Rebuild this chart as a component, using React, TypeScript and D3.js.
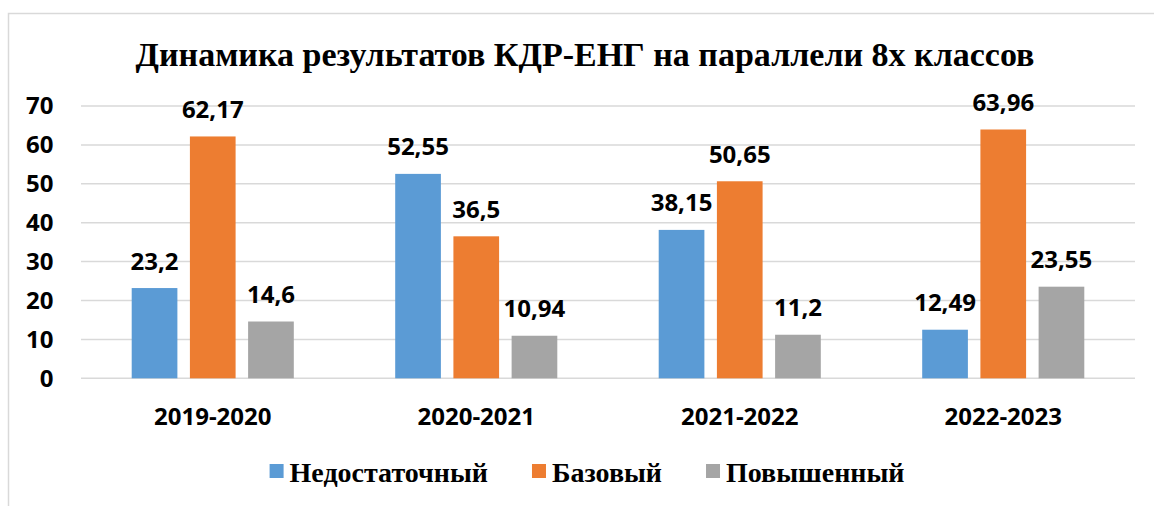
import React, { useEffect, useRef } from "react";
import * as d3 from "d3";

const categories = ["2019-2020", "2020-2021", "2021-2022", "2022-2023"];
const seriesNames = ["Недостаточный", "Базовый", "Повышенный"];
const nedostatochny = [23.2, 52.55, 38.15, 12.49];
const bazovy = [62.17, 36.5, 50.65, 63.96];
const povyshenny = [14.6, 10.94, 11.2, 23.55];
const yTicks = [0, 10, 20, 30, 40, 50, 60, 70];
const title = "Динамика результатов КДР-ЕНГ на параллели 8х классов";
const colors = ["#5B9BD5", "#ED7D31", "#A5A5A5"];

const W = 1154;
const H = 506;

export default function App() {
  const ref = useRef<SVGSVGElement | null>(null);

  useEffect(() => {
    const svg = d3.select(ref.current);
    svg.selectAll("*").remove();

    const values = [nedostatochny, bazovy, povyshenny];
    const left = 81, right = 1135, top = 106, bottom = 378.3;

    // chart frame
    svg.append("rect")
      .attr("x", 8.5).attr("y", 13.5)
      .attr("width", 1160).attr("height", 510)
      .attr("fill", "#fff").attr("stroke", "#d9d9d9").attr("stroke-width", 1.5);

    const y = d3.scaleLinear().domain([0, 70]).range([bottom, top]);
    const x0 = d3.scaleBand<string>().domain(categories).range([left, right]).padding(0);
    const groupW = 162.1;
    const x1 = d3.scaleBand<string>().domain(seriesNames).range([0, groupW]).paddingInner(0.215).paddingOuter(0);

    const labelFont = "'Open Sans', sans-serif";
    const serif = "'Liberation Serif', 'Times New Roman', serif";

    // gridlines
    svg.append("g").selectAll("line").data(yTicks).join("line")
      .attr("x1", left).attr("x2", right)
      .attr("y1", d => y(d)).attr("y2", d => y(d))
      .attr("stroke", "#d9d9d9").attr("stroke-width", 1.5);

    // y tick labels
    svg.append("g").selectAll("text").data(yTicks).join("text")
      .attr("x", 53.5).attr("y", d => y(d))
      .attr("dy", "0.35em")
      .attr("text-anchor", "end")
      .attr("font-family", labelFont).attr("font-weight", 700).attr("font-size", 24)
      .attr("fill", "#000")
      .text(d => String(d));

    // bars
    const rows: { cat: string; s: string; v: number; i: number }[] = [];
    categories.forEach((c, ci) => {
      seriesNames.forEach((s, si) => rows.push({ cat: c, s, v: values[si][ci], i: si }));
    });
    const barX = (r: { cat: string; s: string }) =>
      (x0(r.cat) as number) + x0.bandwidth() / 2 - groupW / 2 + (x1(r.s) as number);

    svg.append("g").selectAll("rect").data(rows).join("rect")
      .attr("x", r => barX(r))
      .attr("y", r => y(r.v))
      .attr("width", x1.bandwidth())
      .attr("height", r => y(0) - y(r.v))
      .attr("fill", r => colors[r.i]);

    // data labels
    svg.append("g").selectAll("text").data(rows).join("text")
      .attr("x", r => barX(r) + x1.bandwidth() / 2)
      .attr("y", r => y(r.v) - 18.5)
      .attr("text-anchor", "middle")
      .attr("font-family", labelFont).attr("font-weight", 700).attr("font-size", 24)
      .attr("fill", "#000")
      .text(r => String(r.v).replace(".", ","));

    // category labels
    svg.append("g").selectAll("text").data(categories).join("text")
      .attr("x", c => (x0(c) as number) + x0.bandwidth() / 2)
      .attr("y", 424.5)
      .attr("text-anchor", "middle")
      .attr("font-family", labelFont).attr("font-weight", 700).attr("font-size", 24)
      .attr("fill", "#000")
      .text(c => c);

    // title
    svg.append("text")
      .attr("x", 585).attr("y", 66)
      .attr("text-anchor", "middle")
      .attr("font-family", serif)
      .attr("font-weight", 700).attr("font-size", 34)
      .attr("fill", "#000")
      .text(title);

    // legend
    const lg = svg.append("g");
    const items = lg.selectAll("g").data(seriesNames).join("g");
    items.append("rect")
      .attr("width", 14).attr("height", 14).attr("y", 464)
      .attr("fill", (_d, i) => colors[i]);
    items.append("text")
      .attr("x", 20).attr("y", 482)
      .attr("font-family", serif)
      .attr("font-weight", 700).attr("font-size", 28)
      .attr("fill", "#000")
      .text(d => d);
    const widths: number[] = [];
    items.select<SVGTextElement>("text").each(function () {
      widths.push(20 + this.getComputedTextLength());
    });
    const gap = 44;
    const total = d3.sum(widths) + gap * (widths.length - 1);
    let cx = 587 - total / 2;
    items.attr("transform", (_d, i) => {
      const t = `translate(${cx},0)`;
      cx += widths[i] + gap;
      return t;
    });
  }, []);

  return (
    <svg
      ref={ref}
      width={W}
      height={H}
      style={{ position: "absolute", left: 0, top: 0, display: "block", background: "#fff" }}
    />
  );
}
